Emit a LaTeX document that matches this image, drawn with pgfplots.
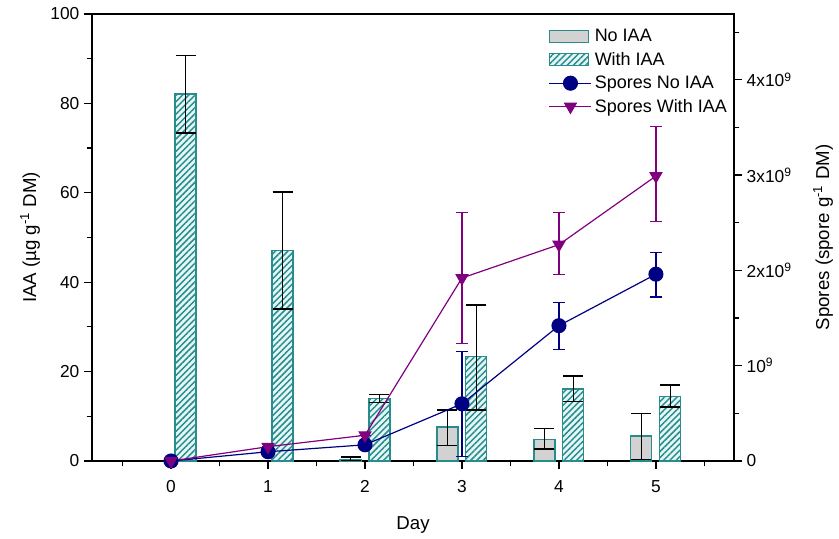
\documentclass[border=0pt]{standalone}
\usepackage{pgfplots}
\pgfplotsset{compat=1.18}
\usepackage{pgfplotstable}
\usepackage{fontspec}
\setmainfont{Liberation Sans}
\usetikzlibrary{patterns.meta}
\definecolor{tealc}{RGB}{40,140,140}
\definecolor{graybar}{RGB}{210,210,210}
\definecolor{navyc}{RGB}{0,0,130}
\definecolor{purplec}{RGB}{128,0,128}
\definecolor{hatchbg}{RGB}{228,246,246}

\pgfplotstableread{
x y ep em
2 0.4 0.5 0.3
3 7.6 3.8 4.2
4 4.9 2.3 2.2
5 5.6 5.1 5.2
}\noiaa
\pgfplotstableread{
x y ep em
0 82.1 8.6 8.7
1 47.0 13.2 13.0
2 13.9 0.9 0.9
3 23.3 11.6 11.9
4 16.1 2.9 2.7
5 14.5 2.5 2.4
}\withiaa
\pgfplotstableread{
x y ep em
0 0.0 0 0
1 0.097 0 0
2 0.17 0 0
3 0.60 0.55 0.555
4 1.42 0.24 0.25
5 1.96 0.23 0.24
}\sporesno
\pgfplotstableread{
x y ep em
0 0.0 0 0
1 0.15 0 0
2 0.27 0 0
3 1.92 0.69 0.69
4 2.27 0.34 0.31
5 2.99 0.52 0.48
}\sporeswith

\pgfplotsset{common/.style={
  width=481.5pt, height=335.25pt, scale only axis,
  xmin=-0.815, xmax=5.805,
  /pgf/number format/assume math mode=true,
  tick label style={font=\fontsize{13}{15}\selectfont},
  label style={font=\fontsize{14}{16}\selectfont},
  axis line style={line width=0.9pt},
  tick style={line width=0.9pt, black},
  tick align=outside, major tick length=6pt, minor tick length=4pt,
}}
\pgfplotsset{linelegend/.style={legend image code/.code={\draw[mark repeat=2, mark phase=2, ##1] plot coordinates {(0pt,0pt) (15.75pt,0pt) (31.5pt,0pt)};}}}

\begin{document}
\begin{tikzpicture}
\begin{axis}[common, name=ax,
  ymin=0, ymax=100,
  ytick={0,20,...,100}, minor ytick={10,30,...,90},
  xtick={0,...,5}, minor xtick={-0.5,0.5,...,5.5},
  xtick pos=bottom, ytick pos=left,
  xticklabel style={yshift=-5pt},
  xlabel={Day},
  ylabel={IAA (µg g\textsuperscript{-1} DM)},
  xlabel style={at={(axis description cs:0.5,0)}, anchor=center, yshift=-48pt},
  ylabel style={at={(axis description cs:0,0.5)}, anchor=center, yshift=46.5pt},
]
\addplot[ybar, bar width=15.75pt, bar shift=0pt, draw=tealc, fill=graybar, line width=0.8pt,
  error bars/.cd, y dir=both, y explicit,
  error bar style={black, line width=0.9pt, solid},
  error mark options={rotate=90, black, mark size=7.5pt, line width=0.9pt}]
  table[x expr=\thisrow{x}-0.1494, y=y, y error plus=ep, y error minus=em]{\noiaa};
\addplot[ybar, bar width=15.75pt, bar shift=0pt, draw=tealc, fill=hatchbg, line width=0.8pt,
  postaction={pattern={Lines[angle=45, distance=3.3pt, line width=1.1pt]}, pattern color=tealc},
  error bars/.cd, y dir=both, y explicit,
  error bar style={black, line width=0.9pt, solid},
  error mark options={rotate=90, black, mark size=7.5pt, line width=0.9pt}]
  table[x expr=\thisrow{x}+0.1494, y=y, y error plus=ep, y error minus=em]{\withiaa};
\end{axis}
\begin{axis}[common,
  ymin=0, ymax=4.69,
  axis y line*=right, axis x line=none,
  ytick={0,1,2,3,4}, minor ytick={0.5,1.5,...,4.5},
  yticklabels={0, 10\textsuperscript{9}, 2x10\textsuperscript{9}, 3x10\textsuperscript{9}, 4x10\textsuperscript{9}},
  ylabel={Spores (spore g\textsuperscript{-1} DM)},
  ylabel style={at={(axis description cs:1,0.5)}, anchor=center, yshift=-66.75pt},
  legend style={draw=none, fill=none, at={(axis description cs:0.705,0.978)}, anchor=north west,
    font=\fontsize{13.5}{15}\selectfont, row sep=2.4pt, cells={anchor=west}},
]
\addlegendimage{legend image code/.code={\draw[draw=tealc, fill=graybar, line width=0.8pt] (0pt,-4.5pt) rectangle (29pt,4.5pt);}}
\addlegendentry{No IAA}
\addlegendimage{legend image code/.code={\draw[draw=tealc, fill=hatchbg, line width=0.8pt, postaction={pattern={Lines[angle=45, distance=3.3pt, line width=1.1pt]}, pattern color=tealc}] (0pt,-4.5pt) rectangle (29pt,4.5pt);}}
\addlegendentry{With IAA}
\addplot[navyc, line width=0.9pt, mark=*, mark size=5.2pt, mark options={solid, fill=navyc}, linelegend,
  error bars/.cd, y dir=both, y explicit,
  error bar style={navyc, line width=0.9pt},
  error mark options={rotate=90, navyc, mark size=4.5pt, line width=0.9pt}]
  table[x=x, y=y, y error plus=ep, y error minus=em]{\sporesno};
\addlegendentry{Spores No IAA}
\addplot[purplec, line width=0.9pt, mark=triangle*, mark size=5pt, mark options={solid, fill=purplec, rotate=180}, linelegend,
  error bars/.cd, y dir=both, y explicit,
  error bar style={purplec, line width=0.9pt},
  error mark options={rotate=90, purplec, mark size=4.5pt, line width=0.9pt}]
  table[x=x, y=y, y error plus=ep, y error minus=em]{\sporeswith};
\addlegendentry{Spores With IAA}
\end{axis}
\path ([shift={(-69pt,-58.5pt)}]ax.south west) rectangle ([shift={(78.75pt,10.5pt)}]ax.north east);
\end{tikzpicture}
\end{document}
